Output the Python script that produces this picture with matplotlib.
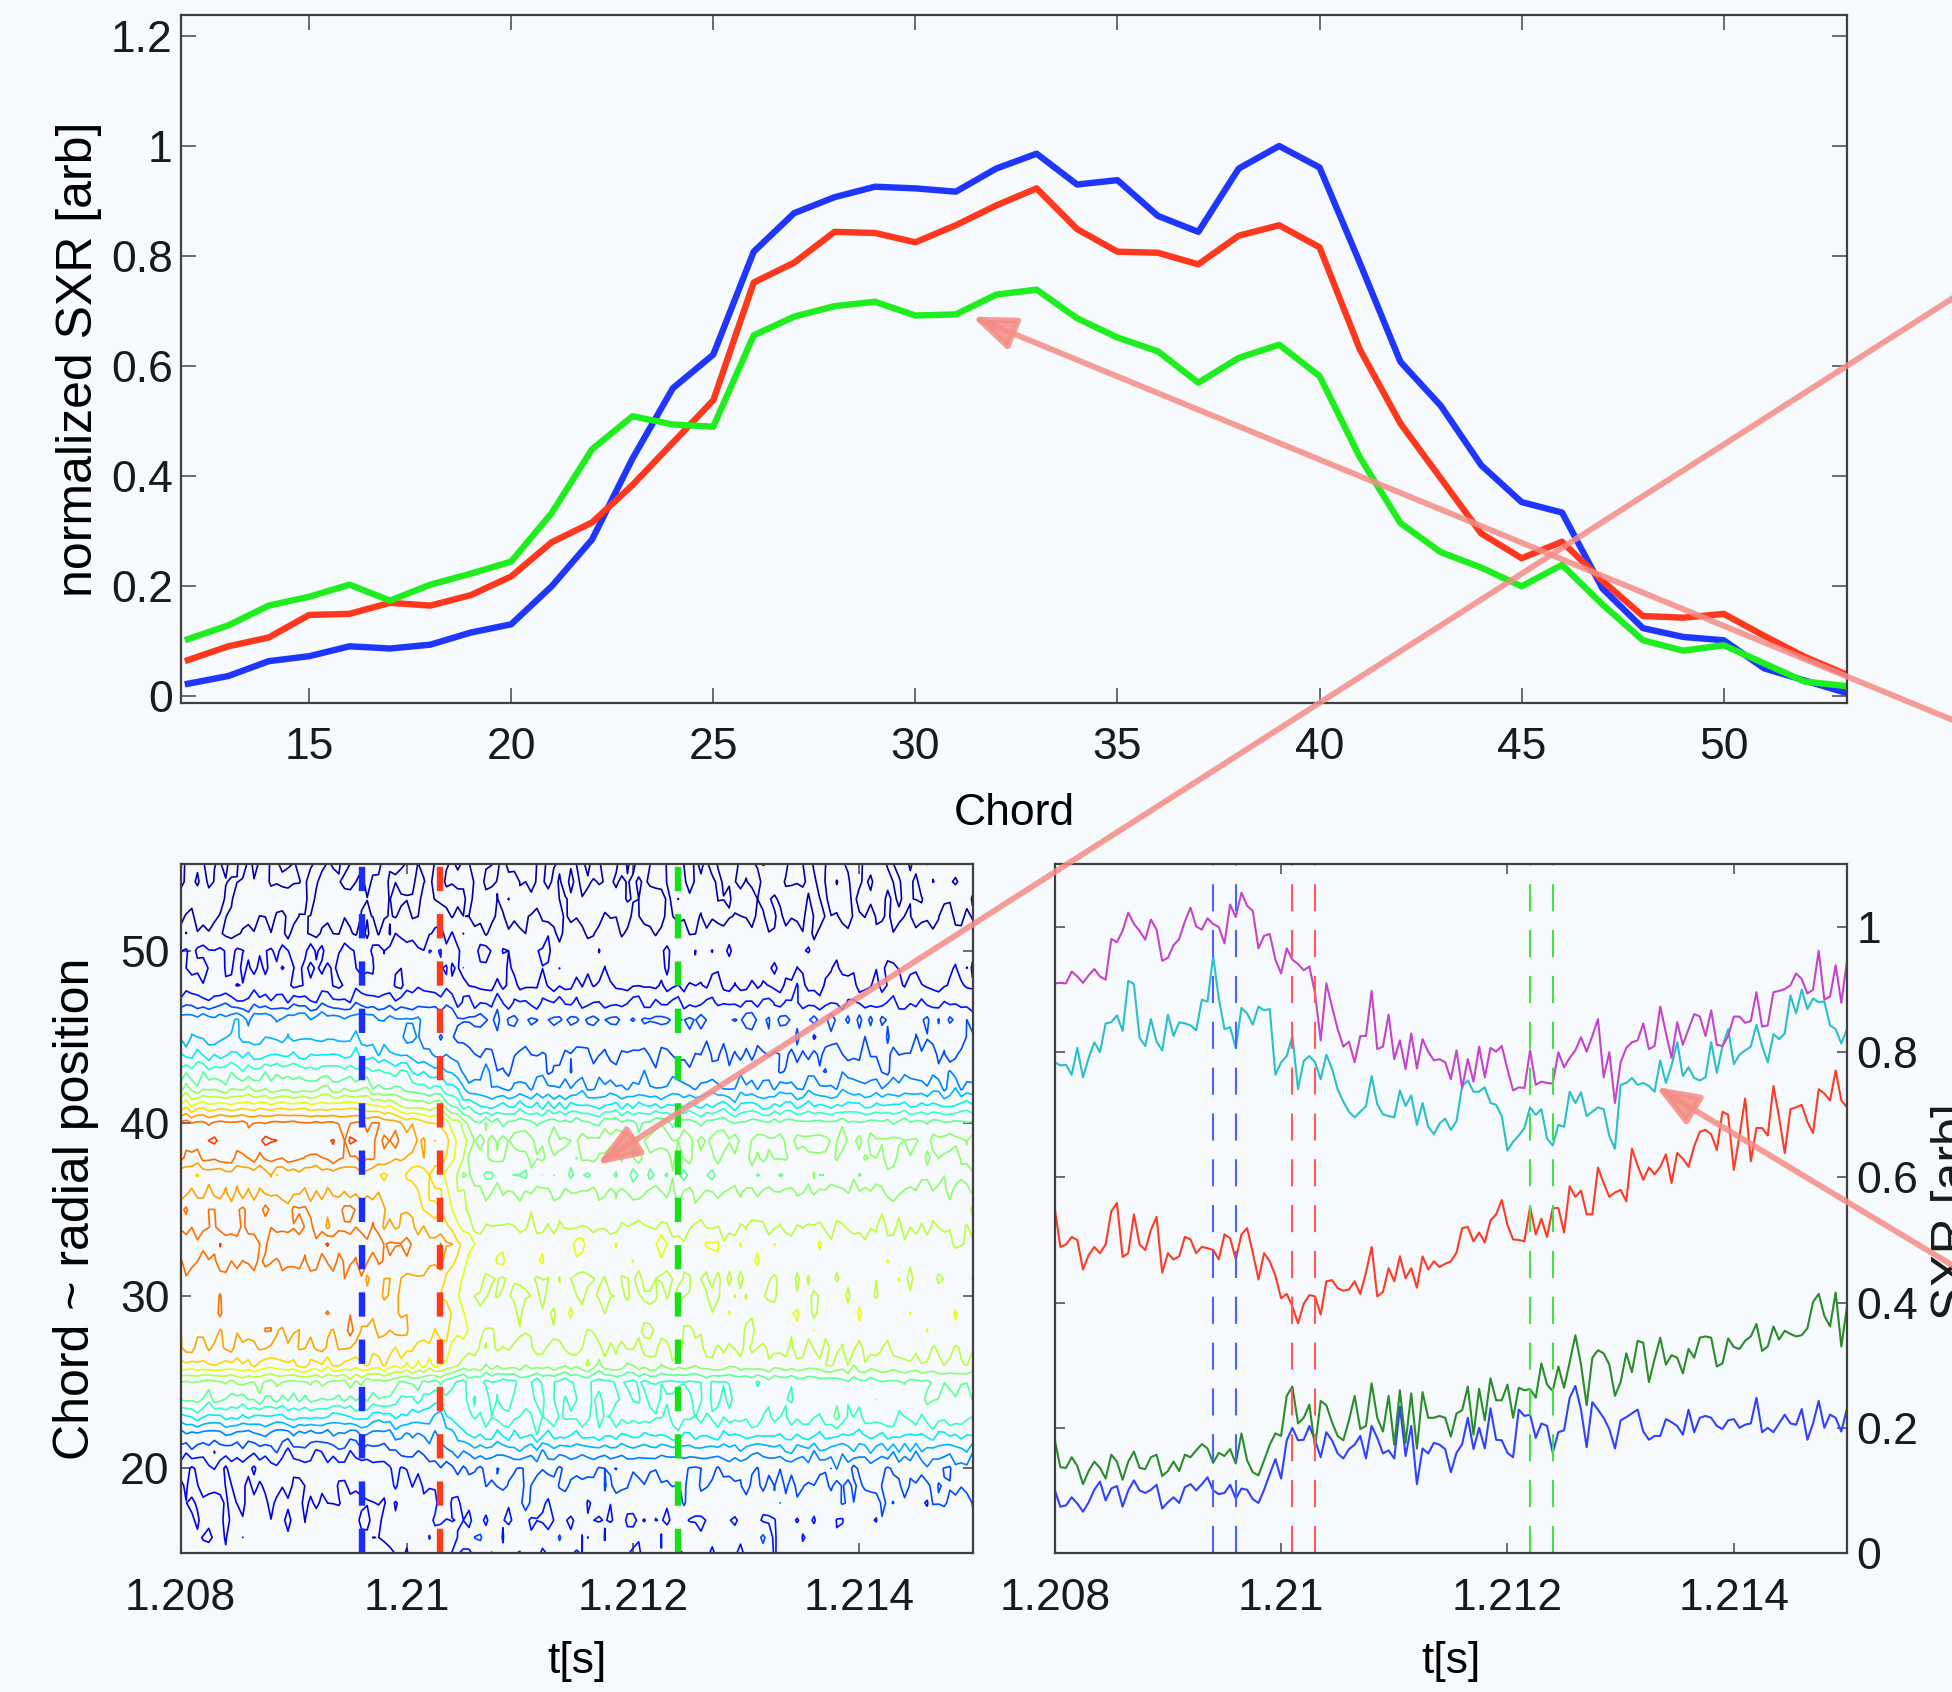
import numpy as np
import matplotlib
matplotlib.use('Agg')
import matplotlib.pyplot as plt
from matplotlib.colors import Normalize
from matplotlib.patches import ConnectionPatch

plt.rcParams['font.family'] = ['Liberation Sans', 'DejaVu Sans']

# ---- top panel: SXR profiles vs chord at three times
chord = np.arange(12, 54)
sxr_blue = [0.023, 0.037, 0.064, 0.073, 0.091, 0.087, 0.094, 0.116, 0.131, 0.200,
            0.285, 0.432, 0.560, 0.621, 0.808, 0.878, 0.907, 0.926, 0.923, 0.917,
            0.959, 0.986, 0.930, 0.938, 0.873, 0.844, 0.959, 1.000, 0.961, 0.787,
            0.608, 0.528, 0.420, 0.353, 0.334, 0.196, 0.124, 0.108, 0.102, 0.051,
            0.029, 0.007]
sxr_red = [0.066, 0.091, 0.107, 0.148, 0.150, 0.170, 0.165, 0.184, 0.218, 0.280,
           0.316, 0.384, 0.461, 0.538, 0.752, 0.788, 0.844, 0.842, 0.825, 0.856,
           0.892, 0.923, 0.849, 0.808, 0.806, 0.785, 0.837, 0.856, 0.816, 0.630,
           0.496, 0.396, 0.296, 0.251, 0.281, 0.210, 0.146, 0.143, 0.150, 0.110,
           0.072, 0.041]
sxr_green = [0.104, 0.129, 0.165, 0.181, 0.203, 0.174, 0.203, 0.223, 0.245, 0.333,
             0.449, 0.509, 0.494, 0.490, 0.656, 0.690, 0.709, 0.717, 0.692, 0.694,
             0.730, 0.739, 0.687, 0.652, 0.627, 0.570, 0.615, 0.639, 0.582, 0.434,
             0.315, 0.262, 0.234, 0.200, 0.239, 0.167, 0.102, 0.083, 0.093, 0.060,
             0.027, 0.019]

# ---- bottom right: SXR time traces of five chords (t = 1.208 .. 1.215 s)
sxr_ch_magenta = [
    0.910, 0.911, 0.910, 0.929, 0.921, 0.911, 0.923, 0.933, 0.921, 0.916,
    0.981, 0.976, 0.994, 1.023, 1.005, 0.994, 0.980, 1.012, 0.996, 0.946,
    0.951, 0.971, 0.981, 1.009, 1.031, 1.001, 0.996, 1.014, 1.005, 1.000,
    0.974, 1.036, 1.016, 1.055, 1.034, 1.026, 0.966,
    0.986, 0.989, 0.948, 0.926, 0.966, 0.948, 0.941, 0.931, 0.937, 0.894,
    0.819, 0.910, 0.873, 0.837, 0.809, 0.817, 0.784, 0.826, 0.826, 0.898,
    0.805, 0.809, 0.860, 0.789, 0.819, 0.773, 0.830, 0.774, 0.821, 0.801,
    0.787, 0.789, 0.784, 0.757, 0.803,
    0.743, 0.789, 0.753, 0.809, 0.760, 0.807, 0.801, 0.810, 0.773, 0.739,
    0.744, 0.743, 0.803, 0.748, 0.753, 0.751, 0.750, 0.800, 0.776, 0.791,
    0.803, 0.824, 0.801, 0.826, 0.853, 0.760, 0.800, 0.719, 0.784, 0.807,
    0.816, 0.819, 0.846, 0.805, 0.810,
    0.873, 0.831, 0.791, 0.848, 0.812, 0.837, 0.861, 0.857, 0.826, 0.867,
    0.812, 0.810, 0.826, 0.857, 0.857, 0.847, 0.850, 0.896, 0.841, 0.843,
    0.896, 0.898, 0.901, 0.907, 0.926, 0.917, 0.894, 0.900, 0.962, 0.884,
    0.889, 0.939, 0.879, 0.946]
sxr_ch_cyan = [
    0.784, 0.779, 0.780, 0.764, 0.807, 0.760, 0.791, 0.816, 0.800, 0.846,
    0.848, 0.859, 0.834, 0.914, 0.909, 0.823, 0.810, 0.853, 0.817, 0.803,
    0.860, 0.826, 0.848, 0.846, 0.843, 0.835, 0.884, 0.881, 0.953, 0.886,
    0.837, 0.840, 0.807, 0.871, 0.862, 0.844, 0.873,
    0.867, 0.869, 0.764, 0.784, 0.794, 0.826, 0.741, 0.786, 0.794, 0.784,
    0.757, 0.796, 0.774, 0.741, 0.721, 0.705, 0.696, 0.705, 0.714, 0.762,
    0.717, 0.701, 0.698, 0.696, 0.739, 0.714, 0.731, 0.684, 0.719, 0.681,
    0.669, 0.686, 0.694, 0.676, 0.690,
    0.746, 0.755, 0.737, 0.737, 0.744, 0.719, 0.716, 0.698, 0.643, 0.657,
    0.667, 0.679, 0.712, 0.700, 0.709, 0.662, 0.651, 0.684, 0.681, 0.737,
    0.719, 0.736, 0.698, 0.705, 0.712, 0.709, 0.666, 0.646, 0.748, 0.751,
    0.759, 0.748, 0.751, 0.746, 0.737,
    0.787, 0.751, 0.779, 0.816, 0.762, 0.776, 0.759, 0.755, 0.760, 0.816,
    0.767, 0.810, 0.837, 0.781, 0.796, 0.803, 0.809, 0.844, 0.810, 0.784,
    0.829, 0.821, 0.830, 0.891, 0.862, 0.900, 0.869, 0.886, 0.880, 0.881,
    0.843, 0.837, 0.814, 0.837]
sxr_ch_red = [
    0.551, 0.489, 0.493, 0.505, 0.500, 0.453, 0.476, 0.489, 0.479, 0.493,
    0.546, 0.559, 0.473, 0.479, 0.541, 0.493, 0.484, 0.516, 0.537, 0.448,
    0.479, 0.469, 0.474, 0.505, 0.501, 0.479, 0.489, 0.487, 0.484, 0.469,
    0.509, 0.503, 0.469, 0.509, 0.519, 0.480, 0.437,
    0.479, 0.466, 0.443, 0.407, 0.414, 0.394, 0.367, 0.398, 0.412, 0.410,
    0.381, 0.434, 0.436, 0.423, 0.419, 0.421, 0.434, 0.414, 0.448, 0.489,
    0.410, 0.417, 0.455, 0.434, 0.474, 0.439, 0.455, 0.424, 0.474, 0.453,
    0.466, 0.457, 0.462, 0.466, 0.480,
    0.519, 0.521, 0.498, 0.512, 0.496, 0.531, 0.541, 0.564, 0.524, 0.501,
    0.500, 0.498, 0.553, 0.509, 0.534, 0.505, 0.551, 0.551, 0.512, 0.586,
    0.569, 0.579, 0.541, 0.541, 0.616, 0.591, 0.569, 0.576, 0.580, 0.562,
    0.646, 0.619, 0.596, 0.616, 0.605,
    0.617, 0.637, 0.591, 0.639, 0.630, 0.617, 0.650, 0.673, 0.676, 0.669,
    0.644, 0.705, 0.700, 0.612, 0.667, 0.726, 0.626, 0.679, 0.679, 0.667,
    0.746, 0.696, 0.639, 0.709, 0.712, 0.716, 0.689, 0.671, 0.741, 0.734,
    0.723, 0.771, 0.723, 0.712]
sxr_ch_green = [
    0.181, 0.137, 0.136, 0.153, 0.139, 0.110, 0.131, 0.146, 0.136, 0.119,
    0.157, 0.146, 0.117, 0.146, 0.162, 0.136, 0.134, 0.153, 0.157, 0.123,
    0.131, 0.146, 0.131, 0.157, 0.153, 0.164, 0.174, 0.167, 0.144, 0.160,
    0.155, 0.166, 0.143, 0.191, 0.148, 0.129, 0.124,
    0.148, 0.173, 0.191, 0.187, 0.251, 0.266, 0.207, 0.216, 0.237, 0.169,
    0.243, 0.236, 0.209, 0.187, 0.180, 0.212, 0.251, 0.198, 0.203, 0.271,
    0.216, 0.194, 0.251, 0.173, 0.260, 0.176, 0.255, 0.167, 0.257, 0.216,
    0.216, 0.219, 0.216, 0.186, 0.223,
    0.228, 0.266, 0.189, 0.262, 0.212, 0.279, 0.244, 0.244, 0.269, 0.216,
    0.264, 0.260, 0.262, 0.248, 0.303, 0.269, 0.259, 0.298, 0.264, 0.305,
    0.348, 0.301, 0.236, 0.312, 0.324, 0.319, 0.301, 0.251, 0.273, 0.319,
    0.289, 0.339, 0.336, 0.273, 0.310,
    0.344, 0.301, 0.316, 0.312, 0.287, 0.326, 0.312, 0.344, 0.346, 0.344,
    0.298, 0.303, 0.343, 0.329, 0.326, 0.339, 0.346, 0.366, 0.323, 0.330,
    0.362, 0.341, 0.355, 0.350, 0.346, 0.348, 0.359, 0.401, 0.414, 0.379,
    0.362, 0.416, 0.330, 0.394]
sxr_ch_blue = [
    0.101, 0.074, 0.076, 0.089, 0.079, 0.066, 0.081, 0.101, 0.114, 0.084,
    0.103, 0.107, 0.074, 0.100, 0.116, 0.100, 0.096, 0.101, 0.109, 0.071,
    0.081, 0.089, 0.080, 0.105, 0.110, 0.100, 0.110, 0.121, 0.100, 0.094,
    0.096, 0.109, 0.087, 0.103, 0.101, 0.086, 0.080,
    0.101, 0.126, 0.150, 0.119, 0.180, 0.200, 0.180, 0.181, 0.203, 0.180,
    0.153, 0.193, 0.180, 0.159, 0.151, 0.166, 0.173, 0.187, 0.151, 0.203,
    0.184, 0.159, 0.164, 0.151, 0.234, 0.155, 0.203, 0.110, 0.167, 0.159,
    0.176, 0.173, 0.166, 0.129, 0.160,
    0.174, 0.216, 0.166, 0.200, 0.167, 0.231, 0.181, 0.180, 0.160, 0.153,
    0.229, 0.219, 0.221, 0.184, 0.207, 0.203, 0.160, 0.193, 0.196, 0.248,
    0.267, 0.229, 0.169, 0.241, 0.229, 0.216, 0.198, 0.167, 0.212, 0.217,
    0.223, 0.229, 0.194, 0.181, 0.187,
    0.187, 0.214, 0.209, 0.203, 0.189, 0.229, 0.193, 0.216, 0.219, 0.216,
    0.203, 0.198, 0.212, 0.214, 0.200, 0.205, 0.207, 0.248, 0.193, 0.200,
    0.193, 0.207, 0.221, 0.207, 0.205, 0.230, 0.181, 0.207, 0.243, 0.200,
    0.221, 0.216, 0.194, 0.231]

# times of the profiles (contour) and the pairs of marks (time traces)
t_marks = [1.2096, 1.21029, 1.2124]
t_pairs = [(1.2094, 1.2096), (1.2101, 1.2103), (1.2122, 1.2124)]

# ---- bottom left: chord-time map, built from the profiles above
cont_chord = np.arange(15, 56)
tail = [0.04, 0.04]                      # chords 54, 55
prof_end = [0.20, 0.21, 0.20, 0.22, 0.24, 0.26, 0.34, 0.44, 0.52, 0.55,
            0.57, 0.68, 0.71, 0.73, 0.74, 0.73, 0.72, 0.72, 0.71, 0.68,
            0.66, 0.64, 0.60, 0.62, 0.63, 0.58, 0.44, 0.33, 0.27, 0.24,
            0.21, 0.22, 0.16, 0.11, 0.09, 0.09, 0.06, 0.04, 0.03, 0.03, 0.03]
key_t = [1.208, 1.2096, 1.2103, 1.2106, 1.2124, 1.215]

bg = '#f6fafc'
W, H = 1952, 1692
fig = plt.figure(figsize=(W / 100, H / 100), dpi=100, facecolor=bg)


def style(ax, length):
    ax.set_facecolor(bg)
    for s in ax.spines.values():
        s.set_color('#404040')
        s.set_linewidth(1.6)
    ax.tick_params(direction='in', top=True, right=True, length=length,
                   width=1.3, color='#606060', labelsize=32, labelcolor='#1a1a1a')


# top
ax1 = fig.add_axes([181 / W, 1 - 703 / H, 1666 / W, 688 / H])
style(ax1, 11)
ax1.plot(chord, sxr_blue, color='#1f36ff', lw=4.6)
ax1.plot(chord, sxr_red, color='#ff371c', lw=4.6)
ax1.plot(chord, sxr_green, color='#1eee1e', lw=4.6)
ax1.set_xlim(11.83, 53.05)
ax1.set_ylim(-0.012, 1.238)
ax1.set_xticks([15, 20, 25, 30, 35, 40, 45, 50])
ax1.set_yticks([0, 0.2, 0.4, 0.6, 0.8, 1.0, 1.2])
ax1.set_yticklabels(['0', '0.2', '0.4', '0.6', '0.8', '1', '1.2'])
ax1.tick_params(axis='x', pad=17)
ax1.tick_params(axis='y', pad=6)
ax1.set_xlabel('Chord', fontsize=32, labelpad=18)
ax1.set_ylabel('normalized SXR [arb]', fontsize=36, labelpad=6)

# bottom left: contour map
t = np.linspace(1.208, 1.215, len(sxr_ch_blue))


def smooth(s, w=9):
    s = np.asarray(s)
    p = np.pad(s, w // 2, mode='edge')
    return np.convolve(p, np.ones(w) / w, mode='valid')


traces = [sxr_ch_blue, sxr_ch_green, sxr_ch_red, sxr_ch_cyan, sxr_ch_magenta]
devs = [np.asarray(s) - smooth(s) for s in traces]
noise = np.array([np.roll(devs[k % 5], 11 * k) for k in range(len(cont_chord))])

pb = list(sxr_blue[3:]) + tail
pr = list(sxr_red[3:]) + tail
pg = list(sxr_green[3:]) + tail
key_prof = np.array([pb, pb, pr, pg, pg, prof_end])
Z = np.array([np.interp(t, key_t, key_prof[:, k]) for k in range(len(cont_chord))])
Z = Z + 0.8 * noise

ax2 = fig.add_axes([180.5 / W, 1 - 1553 / H, 792 / W, 688.5 / H])
style(ax2, 7)
levels = np.linspace(0.04, 1.08, 17)
ax2.contour(t, cont_chord, Z, levels=levels, cmap='jet',
            norm=Normalize(0, 1.2), linewidths=1.2)
for tm, c in zip(t_marks, ['#1a2cff', '#ff3a1a', '#18e018']):
    ax2.axvline(tm, color=c, lw=4.6, dashes=(3.8, 3.6))
ax2.set_xlim(1.208, 1.215)
ax2.set_ylim(15.1, 55)
ax2.set_xticks([1.208, 1.210, 1.212, 1.214])
ax2.set_xticklabels(['1.208', '1.21', '1.212', '1.214'])
ax2.set_yticks([20, 30, 40, 50])
ax2.tick_params(axis='x', pad=18)
ax2.tick_params(axis='y', pad=8)
ax2.set_xlabel('t[s]', fontsize=32, labelpad=16)
ax2.set_ylabel('Chord ~ radial position', fontsize=36, labelpad=15)

# bottom right: time traces
ax3 = fig.add_axes([1054.7 / W, 1 - 1553 / H, 792.3 / W, 688.5 / H])
style(ax3, 7)
for s, c in zip(traces, ['#3142ff', '#2a8c2a', '#ff3a26', '#2abfca', '#c444cc']):
    ax3.plot(np.linspace(1.208, 1.215, len(s)), s, color=c, lw=1.5)
for pair, c in zip(t_pairs, ['#4a62ff', '#ff5a5a', '#44e044']):
    for tm in pair:
        ax3.axvline(tm, color=c, lw=1.5, dashes=(13, 9))
ax3.set_xlim(1.208, 1.215)
ax3.set_ylim(0, 1.1)
ax3.set_xticks([1.208, 1.210, 1.212, 1.214])
ax3.set_xticklabels(['1.208', '1.21', '1.212', '1.214'])
ax3.set_yticks([0, 0.2, 0.4, 0.6, 0.8, 1.0])
ax3.set_yticklabels(['0', '0.2', '0.4', '0.6', '0.8', '1'])
ax3.tick_params(axis='y', left=True, right=True, labelleft=False, labelright=True, pad=7)
ax3.tick_params(axis='x', pad=18)
ax3.set_xlabel('t[s]', fontsize=32, labelpad=16)
fig.text(1931 / W, 1 - 1212 / H, 'SXR [arb]', rotation=90, fontsize=36,
         ha='left', va='center', color='#1a1a1a')

# pink pointer arrows coming in from the right edge
arrow_col = (0.96, 0.55, 0.52, 0.85)
pointers = [((2050, 760), (31.4, 0.69), ax1),
            ((2050, 236), (1.21168, 37.6), ax2),
            ((2050, 1324), (1.21331, 0.745), ax3)]
for (tx, ty), head, ax in pointers:
    cp = ConnectionPatch(xyA=(tx / W, 1 - ty / H), coordsA=fig.transFigure,
                         xyB=head, coordsB=ax.transData,
                         arrowstyle='-|>,head_length=1.3,head_width=0.5',
                         mutation_scale=20, color=arrow_col, lw=4.2,
                         shrinkA=0, shrinkB=0, zorder=10)
    fig.add_artist(cp)

fig.savefig('out.png', dpi=100, facecolor=bg)
